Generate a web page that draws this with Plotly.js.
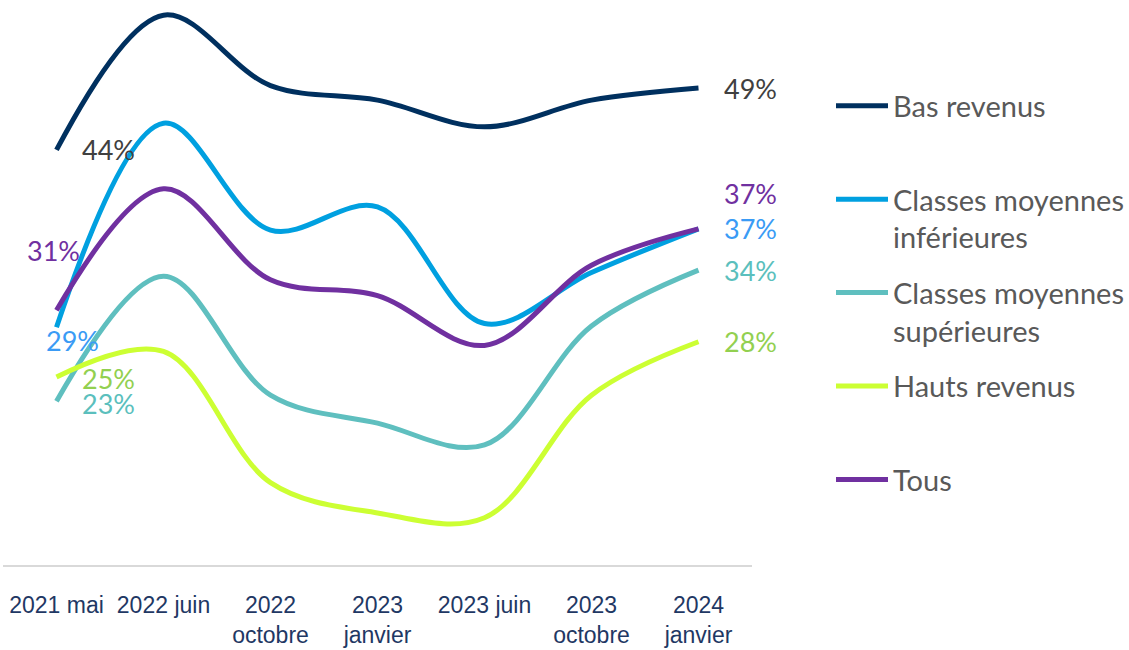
<!DOCTYPE html>
<html><head><meta charset="utf-8">
<script src="https://cdn.plot.ly/plotly-3.0.1.min.js"></script>
<style>html,body{margin:0;padding:0;background:#fff}#chart{width:1129px;height:650px}</style>
</head><body><div id="chart"></div>
<script>
const categories = ["2021 mai", "2022 juin", "2022 octobre", "2023 janvier", "2023 juin", "2023 octobre", "2024 janvier"];
const tickLabels = ["2021 mai", "2022 juin", "2022<br>octobre", "2023<br>janvier", "2023 juin", "2023<br>octobre", "2024<br>janvier"];
const seriesNames = ["Bas revenus", "Classes moyennes<br>inférieures", "Classes moyennes<br>supérieures", "Hauts revenus", "Tous"];
const basRevenus = [43.9, 55.0, 49.2, 48.0, 45.8, 48.0, 49.0];
const moyInf = [29.3, 46.1, 37.3, 39.2, 29.6, 33.8, 37.4];
const moySup = [23.2, 33.5, 23.7, 21.4, 19.6, 29.4, 34.0];
const hautsRevenus = [25.2, 27.3, 16.5, 14.0, 13.6, 23.7, 28.1];
const tous = [30.7, 40.7, 33.2, 31.9, 27.8, 34.4, 37.4];

const allSeries = [basRevenus, moyInf, moySup, hautsRevenus, tous];
const lineColors = ["#00305f", "#00a0e0", "#5fbfbf", "#ccff33", "#7030a0"];
const labelColors = ["#404040", "#3a9bf5", "#5bbfbd", "#92d050", "#7030a0"];
// label offsets (pixels) for first and last points
const firstShift = [[52, 0], [16, -13], [52, -2], [52, -2], [-3, 60]];
const lastShift = [[52, 0], [52, 0], [52, 0], [52, 0], [52, 35]];

const traces = allSeries.map((vals, i) => ({
  type: "scatter", mode: "lines", x: categories, y: vals,
  name: seriesNames[i] + (seriesNames[i].indexOf("<br>") < 0 ? "<br>\u00a0" : ""),
  legendgroup: "g" + i,
  line: {color: lineColors[i], width: 5, shape: "spline", smoothing: 1},
  cliponaxis: false, hoverinfo: "skip"
}));

const annotations = [];
allSeries.forEach((vals, i) => {
  const n = vals.length - 1;
  [[0, firstShift[i]], [n, lastShift[i]]].forEach(([idx, sh]) => {
    annotations.push({
      x: categories[idx], y: vals[idx], xref: "x", yref: "y",
      text: Math.round(vals[idx]) + "%", showarrow: false,
      xshift: sh[0], yshift: sh[1],
      font: {family: "Lato, 'Open Sans', sans-serif", size: 27, color: labelColors[i]}
    });
  });
});

const layout = {
  width: 1129, height: 650,
  margin: {l: 3, r: 376, t: 0, b: 85},
  paper_bgcolor: "#ffffff", plot_bgcolor: "#ffffff",
  showlegend: true,
  legend: {
    x: 1.105, xanchor: "left", y: 0.8576, yanchor: "top",
    font: {family: "Lato, 'Open Sans', sans-serif", size: 29, color: "#595959"},
    valign: "top", tracegroupgap: 15, itemwidth: 52, traceorder: "grouped",
    bgcolor: "rgba(0,0,0,0)"
  },
  xaxis: {
    type: "category", range: [-0.5, 6.5],
    tickvals: categories, ticktext: tickLabels,
    showgrid: false, zeroline: false, showline: true, linecolor: "#d9d9d9", linewidth: 2,
    ticks: "", ticklabelstandoff: 18,
    tickfont: {family: "'Liberation Sans Narrow', 'Liberation Sans', Arial, sans-serif", size: 23, color: "#1f3864"}
  },
  yaxis: {range: [9.71, 56.25], visible: false, showgrid: false, zeroline: false, fixedrange: true},
  annotations: annotations
};

Plotly.newPlot("chart", traces, layout, {displayModeBar: false, staticPlot: true});
</script>
</body></html>
